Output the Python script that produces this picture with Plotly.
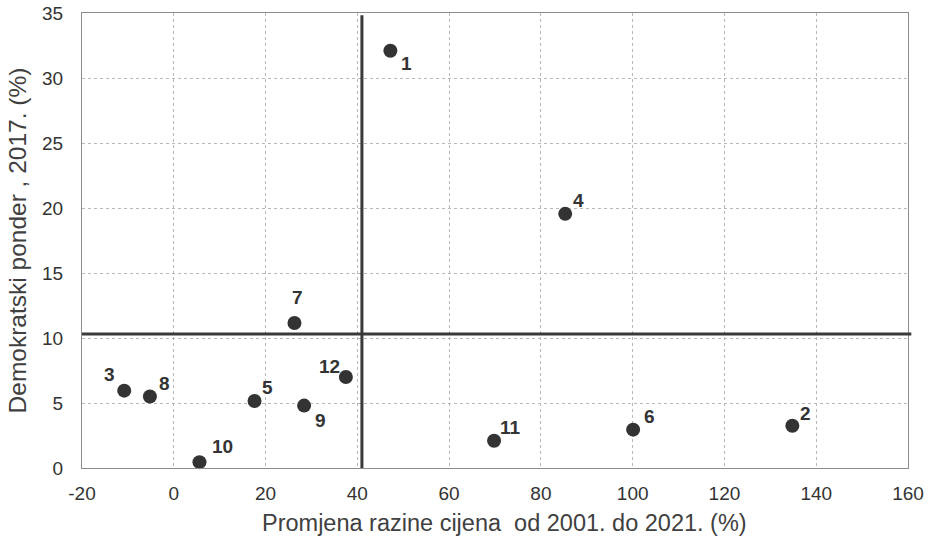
import plotly.graph_objects as go

labels = ["1", "2", "3", "4", "5", "6", "7", "8", "9", "10", "11", "12"]
price_change = [47.2, 134.8, -10.8, 85.3, 17.6, 100.1, 26.3, -5.2, 28.4, 5.6, 69.8, 37.5]
dem_weight = [32.1, 3.25, 5.95, 19.55, 5.15, 2.95, 11.15, 5.5, 4.8, 0.45, 2.1, 7.0]
x_ticks = [-20, 0, 20, 40, 60, 80, 100, 120, 140, 160]
x_tick_text = ["-20", "0", "20", "40", "60", "80", "100", "120", "140", "160"]
y_ticks = [0, 5, 10, 15, 20, 25, 30, 35]
x_ref = 41.0
y_ref = 10.3
x_title = "Promjena razine cijena\u00a0 od 2001. do 2021. (%)"
y_title = "Demokratski ponder , 2017. (%)"

# label offsets from each marker in pixels (dx right, dy up)
label_dx = [16, 13, -15, 13, 13, 16, 3, 15, 16, 23, 16, -16]
label_dy = [-13, 12, 16, 13, 14, 13, 26, 13, -15, 16, 13, 11]

FONT = "Liberation Sans, Arial"

fig = go.Figure()
fig.add_trace(go.Scatter(
    x=price_change, y=dem_weight, mode="markers",
    marker=dict(size=14, color="#333333"),
    cliponaxis=False, showlegend=False, hoverinfo="skip",
))

for lab, xv, yv, dx, dy in zip(labels, price_change, dem_weight, label_dx, label_dy):
    fig.add_annotation(x=xv, y=yv, text=lab, showarrow=False,
                       xshift=dx, yshift=dy, xanchor="center", yanchor="middle",
                       font=dict(family=FONT, size=19, color="#333333", weight="bold"))

fig.add_annotation(x=0.5, y=0, xref="paper", yref="paper", text=x_title, showarrow=False,
                   xanchor="center", yanchor="middle", xshift=9, yshift=-55,
                   font=dict(family=FONT, size=23.5, color="#404040"))

fig.add_shape(type="line", xref="x", yref="paper", x0=x_ref, x1=x_ref, y0=0, y1=0.995,
              line=dict(color="#3a3a3a", width=3), layer="above")
fig.add_shape(type="line", xref="paper", yref="y", x0=0, x1=1.004, y0=y_ref, y1=y_ref,
              line=dict(color="#3a3a3a", width=3), layer="above")

axis_common = dict(
    showgrid=True, gridcolor="#b8b8b8", griddash="dot", gridwidth=1,
    showline=True, linecolor="#8c8c8c", linewidth=1, mirror=True,
    zeroline=False, ticks="", automargin=False, ticklabeloverflow="allow",
    tickfont=dict(family=FONT, size=19, color="#333333"),
)

fig.update_xaxes(range=[-20, 160], tickvals=x_ticks, ticktext=x_tick_text, **axis_common,
                 ticklabelstandoff=8)
fig.update_yaxes(range=[0, 35], tickvals=y_ticks, **axis_common,
                 ticklabelstandoff=14,
                 title=dict(text=y_title,
                            font=dict(family=FONT, size=24.5, color="#404040"),
                            standoff=8))

fig.update_layout(
    width=932, height=543,
    margin=dict(l=82, r=24, t=13, b=75),
    plot_bgcolor="white", paper_bgcolor="white",
)

fig.write_html("out.html", config={"displayModeBar": False},
               post_script="document.body.style.margin='0';document.body.style.overflow='hidden';")
